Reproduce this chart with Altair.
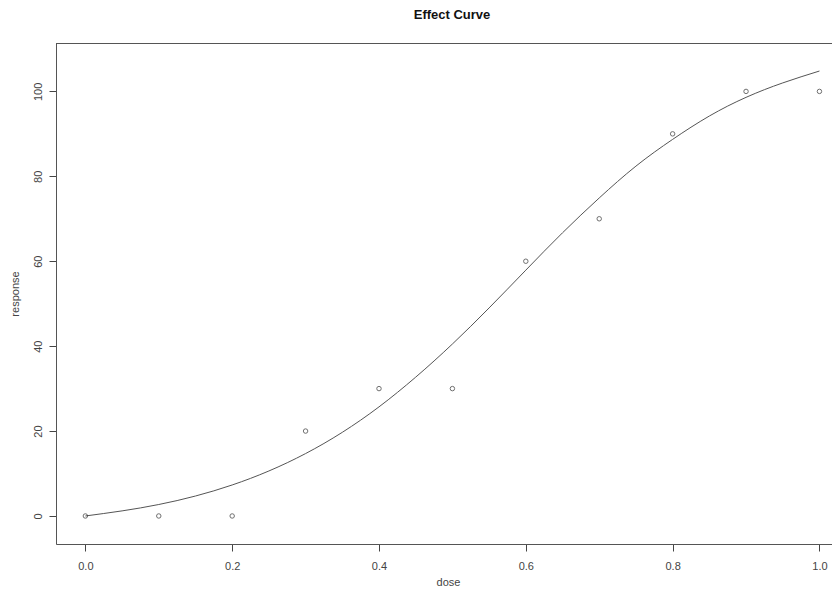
import altair as alt
import pandas as pd

dose = [0.0, 0.1, 0.2, 0.3, 0.4, 0.5, 0.6, 0.7, 0.8, 0.9, 1.0]
response = [0, 0, 0, 20, 30, 30, 60, 70, 90, 100, 100]

curve_x = [0.0, 0.05, 0.1, 0.15, 0.2, 0.25, 0.3, 0.35, 0.4, 0.45, 0.5,
           0.55, 0.6, 0.65, 0.7, 0.75, 0.8, 0.85, 0.9, 0.95, 1.0]
curve_y = [0.0, 1.2, 2.7, 4.7, 7.3, 10.6, 14.7, 19.7, 25.7, 32.7, 40.5,
           49.0, 57.9, 66.7, 74.9, 82.4, 88.7, 94.2, 98.6, 102.0, 104.8]

x_ticks = [0.0, 0.2, 0.4, 0.6, 0.8, 1.0]
y_ticks = [0, 20, 40, 60, 80, 100]

pts = pd.DataFrame({"dose": dose, "response": response})
crv = pd.DataFrame({"dose": curve_x, "response": curve_y})

FONT = "Liberation Sans"
GREY = "#444444"
FRAME = "#555555"

xscale = alt.Scale(domain=[-0.04, 1.028], nice=False, zero=False)
yscale = alt.Scale(domain=[-6.6, 111.4], nice=False, zero=False)

xaxis = alt.Axis(values=x_ticks, format=".1f", title="dose", grid=False,
                 domain=True, domainColor=FRAME, domainWidth=1,
                 tickSize=7, tickColor=GREY, labelColor=GREY,
                 labelFont=FONT, labelFontSize=11, labelPadding=9,
                 titleFont=FONT, titleFontSize=11, titleFontWeight="normal",
                 titleColor=GREY, titlePadding=5)
yaxis = alt.Axis(values=y_ticks, format="d", title="response", grid=False,
                 domain=True, domainColor=FRAME, domainWidth=1,
                 tickSize=7, tickColor=GREY, labelColor=GREY,
                 labelFont=FONT, labelFontSize=11, labelPadding=6, labelAngle=-90,
                 labelAlign="center", labelBaseline="bottom",
                 titleFont=FONT, titleFontSize=11, titleFontWeight="normal",
                 titleColor=GREY, titlePadding=12)

line = alt.Chart(crv).mark_line(color="#555555", strokeWidth=1, interpolate="natural").encode(
    x=alt.X("dose:Q", scale=xscale, axis=xaxis),
    y=alt.Y("response:Q", scale=yscale, axis=yaxis),
)
points = alt.Chart(pts).mark_point(shape="circle", filled=False, color="#333333",
                                   size=20, strokeWidth=1).encode(
    x=alt.X("dose:Q", scale=xscale),
    y=alt.Y("response:Q", scale=yscale),
)
top_frame = alt.Chart(pts).mark_rule(color=FRAME, strokeWidth=1).encode(
    x=alt.value(0), x2=alt.value(800), y=alt.value(0.5)
)

chart = (line + points + top_frame).properties(
    width=784, height=501,
    title=alt.TitleParams("Effect Curve", font=FONT, fontSize=13, fontWeight="bold",
                          color="#111111", anchor="middle", dx=4, offset=21),
    autosize=alt.AutoSizeParams(type="none"),
    padding={"left": 48, "top": 35, "right": -8, "bottom": 43},
).configure_view(strokeWidth=0).configure(background="white")

chart.save("out.html", embed_options={"renderer": "svg", "actions": False})
